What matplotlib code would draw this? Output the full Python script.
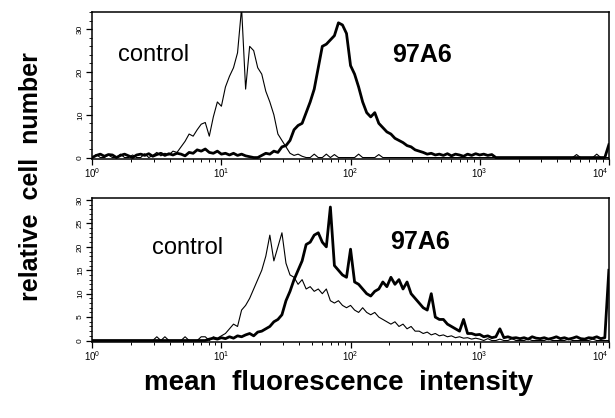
import numpy as np
import matplotlib
matplotlib.use("Agg")
import matplotlib.pyplot as plt
from matplotlib.ticker import FixedLocator, MultipleLocator, LogLocator, NullFormatter

plt.rcParams["font.family"] = ["Liberation Sans", "DejaVu Sans"]
plt.rcParams["mathtext.fontset"] = "custom"
plt.rcParams["mathtext.rm"] = "Liberation Sans"
plt.rcParams["mathtext.it"] = "Liberation Sans"

# =============================================================
# DATA  (counts per channel, 32 channels per decade, 10^0 .. 10^4)
# =============================================================
CH_PER_DECADE = 32

# top panel
control_top = [
    0, 0.7, 0, 0, 0.6, 0, 0, 0.8, 0, 0, 0.6, 0, 0, 0.9, 0, 0.5,
    1.2, 0.4, 1.0, 0.6, 1.5, 1.2, 2.5, 3.8, 5.5, 5.0, 6.5, 7.8, 8.2, 5.0, 9.5, 13.0,
    12.0, 16.5, 19.0, 21.0, 24.5, 35.0, 16.0, 26.0, 25.0, 21.0, 19.5, 15.5, 13.0, 10.0, 5.5, 4.0,
    2.5, 1.0, 0.5, 0.8, 0.3, 0, 0, 0.8, 0, 0, 0.8, 0, 0.7, 0, 0, 0,
    0, 0, 0.8, 0, 0, 0, 0, 0.7, 0, 0, 0, 0, 0, 0, 0, 0,
    0, 0, 0, 0, 0, 0, 0, 0, 0, 0, 0, 0, 0, 0, 0, 0,
    0, 0, 0, 0, 0, 0, 0, 0, 0, 0, 0, 0, 0, 0, 0, 0,
    0, 0, 0, 0, 0, 0, 0, 0, 0.7, 0, 0, 0, 0, 0.8, 0, 0,
    0,
]
ab97a6_top = [
    0, 0.5, 0.8, 0.3, 0.7, 0.6, 0, 0.5, 0.8, 0.4, 0, 0.6, 0.8, 0.5, 0.9, 0.3,
    0.7, 1.0, 0.5, 0.9, 0.6, 1.0, 0.8, 0.4, 1.2, 1.0, 1.8, 1.5, 2.0, 1.2, 1.0, 1.5,
    0.8, 1.0, 0.6, 1.0, 0.5, 0.8, 0.4, 0.2, 0, 0, 0.5, 1.0, 0.8, 1.5, 1.2, 2.5,
    2.8, 4.0, 6.5, 7.5, 8.0, 10.5, 13.0, 16.0, 21.0, 26.0, 26.5, 27.5, 28.5, 31.5, 31.0, 29.0,
    21.5, 19.5, 16.5, 13.0, 10.5, 9.5, 10.5, 8.0, 7.0, 6.0, 5.5, 4.5, 4.0, 3.5, 2.8, 2.5,
    1.8, 1.5, 1.2, 0.8, 1.0, 0.6, 0.8, 0.5, 0.9, 0.4, 0.8, 0.6, 0.3, 0.8, 0.5, 0.9,
    0.6, 0.8, 0.5, 0.7, 0, 0, 0, 0, 0, 0, 0, 0, 0, 0, 0, 0,
    0, 0, 0, 0, 0, 0, 0, 0, 0, 0, 0, 0, 0, 0, 0, 0,
    3.0,
]

# bottom panel
control_bot = [
    0, 0, 0, 0, 0, 0, 0, 0, 0, 0, 0, 0, 0, 0, 0, 0,
    0.8, 0, 0.8, 0, 0, 0, 0, 0.8, 0, 0, 0, 0.8, 0.8, 0, 0.8, 0.5,
    1.0, 1.5, 2.5, 3.5, 3.0, 6.5, 7.5, 9.0, 11.0, 13.0, 15.0, 18.0, 22.5, 17.0, 20.0, 23.0,
    16.5, 14.0, 13.5, 12.0, 13.0, 11.0, 11.5, 10.5, 11.0, 10.0, 11.0, 8.5, 8.0, 8.5, 7.5, 7.0,
    7.5, 6.5, 6.0, 7.0, 6.0, 5.5, 6.0, 5.0, 4.5, 4.0, 3.5, 4.0, 3.0, 3.5, 2.5, 3.0,
    2.0, 2.0, 1.5, 1.8, 1.2, 1.5, 1.0, 1.2, 0.8, 1.0, 0.6, 0.8, 0.5, 0.6, 0.3, 0.5,
    0.3, 0, 0.4, 0, 0, 0.3, 0, 0, 0.4, 0, 0, 0, 0.3, 0, 0, 0,
    0, 0.3, 0, 0, 0, 0, 0.3, 0, 0, 0, 0, 0, 0.3, 0, 0, 0,
    0,
]
ab97a6_bot = [
    0, 0, 0, 0, 0, 0, 0, 0, 0, 0, 0, 0, 0, 0, 0, 0,
    0, 0, 0, 0, 0, 0, 0, 0, 0, 0, 0, 0, 0, 0.3, 0.5, 0.3,
    0.6, 0.4, 0.8, 0.5, 1.0, 0.8, 1.2, 1.5, 1.0, 1.8, 2.0, 2.5, 3.0, 4.0, 4.5, 5.5,
    8.5, 10.5, 13.0, 15.0, 17.0, 20.5, 21.0, 22.5, 23.0, 21.0, 20.0, 28.5, 16.0, 15.0, 14.0, 13.5,
    19.5, 12.5, 12.0, 11.0, 10.0, 9.5, 10.5, 11.0, 12.5, 11.5, 13.5, 12.0, 13.0, 11.0, 12.5, 10.0,
    9.0, 8.0, 7.0, 6.5, 10.0, 5.0, 4.5, 4.5, 3.5, 3.0, 2.5, 2.0, 4.5, 1.5, 1.5, 1.2,
    1.3, 0.8, 1.0, 0.6, 0.8, 2.5, 0.6, 0.8, 0.5, 0.6, 0.4, 0.6, 0.3, 0.8, 0.5, 0.4,
    0.6, 0.3, 0.5, 0.8, 0.4, 0.6, 0.3, 0.5, 0.8, 0.4, 0.3, 0.6, 0.5, 0.8, 0.4, 0.6,
    15.0,
]

panels = [
    dict(control=control_top, antibody=ab97a6_top, ymax=34, yticks=[0, 10, 20, 30], yminor=2,
         ctrl_pos=(0.05, 0.71), ab_pos=(0.58, 0.71)),
    dict(control=control_bot, antibody=ab97a6_bot, ymax=30.4, yticks=[0, 5, 10, 15, 20, 25, 30], yminor=1,
         ctrl_pos=(0.116, 0.655), ab_pos=(0.576, 0.695)),
]

# =============================================================
# PLOT
# =============================================================
fig = plt.figure(figsize=(6.15, 4.18), dpi=100)
ax_rects = [[0.150, 0.620, 0.840, 0.351],
            [0.150, 0.182, 0.840, 0.344]]

xticks = [1, 10, 100, 1000, 10000]
xlabels = [r"$10^{0}$", r"$10^{1}$", r"$10^{2}$", r"$10^{3}$", r"$10^{4}$"]

for rect, p in zip(ax_rects, panels):
    ax = fig.add_axes(rect)
    n = len(p["control"])
    x = 10 ** (np.arange(n) / CH_PER_DECADE)
    ax.plot(x, p["control"], color="black", lw=0.8)
    ax.plot(x, p["antibody"], color="black", lw=2.0)

    ax.set_xscale("log")
    ax.set_xlim(1, 10000)
    ax.set_ylim(-0.3, p["ymax"])

    ax.xaxis.set_major_locator(FixedLocator(xticks))
    ax.set_xticklabels(xlabels)
    ax.get_xticklabels()[-1].set_horizontalalignment("right")
    ax.xaxis.set_minor_locator(LogLocator(base=10, subs=np.arange(2, 10)))
    ax.xaxis.set_minor_formatter(NullFormatter())
    ax.yaxis.set_major_locator(FixedLocator(p["yticks"]))
    ax.yaxis.set_minor_locator(MultipleLocator(p["yminor"]))
    ax.set_yticklabels([str(t) for t in p["yticks"]], rotation=90, va="center")

    ax.tick_params(axis="x", which="major", direction="out", length=4, width=0.9,
                   labelsize=7, pad=1)
    ax.tick_params(axis="x", which="minor", direction="out", length=2.5, width=0.7)
    ax.tick_params(axis="y", which="major", direction="out", length=4, width=0.9,
                   labelsize=6, pad=2)
    ax.tick_params(axis="y", which="minor", direction="out", length=2, width=0.6)
    for s in ax.spines.values():
        s.set_linewidth(1.1)

    ax.text(*p["ctrl_pos"], "control", transform=ax.transAxes, fontsize=17,
            ha="left", va="center")
    ax.text(*p["ab_pos"], "97A6", transform=ax.transAxes, fontsize=18,
            fontweight="bold", ha="left", va="center")

fig.text(0.05, 0.577, "relative  cell  number", rotation=90, fontsize=18,
         fontweight="bold", ha="center", va="center")
fig.text(0.55, 0.084, "mean  fluorescence  intensity", fontsize=20,
         fontweight="bold", ha="center", va="center")

fig.savefig("out.png", dpi=100)
